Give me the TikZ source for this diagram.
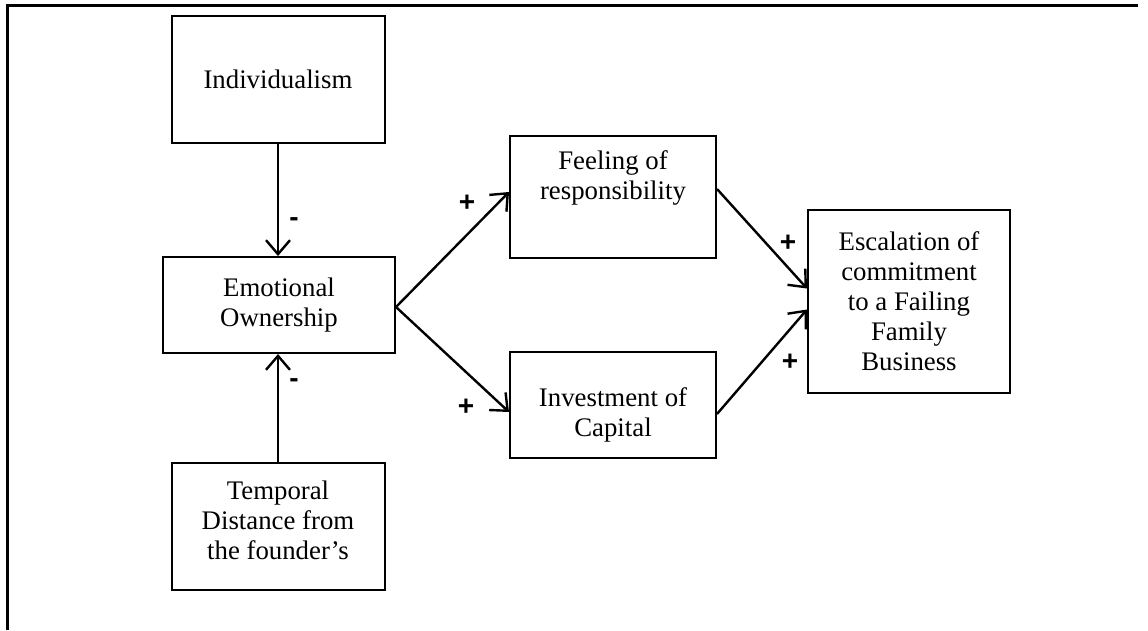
\documentclass[tikz,border=0pt]{standalone}
\usepackage{fontspec}
\setmainfont{Liberation Serif}
\newfontfamily\signfont{Liberation Sans}
\usetikzlibrary{arrows.meta}

\begin{document}
\begin{tikzpicture}[x=1pt, y=-1pt,
  box/.style = {shape=rectangle, draw, line width=2pt,
    align=center, font=\fontsize{26.8}{30}\selectfont},
  txt/.style = {align=center, font=\fontsize{26.8}{30}\selectfont},
  sign/.style = {font=\signfont\bfseries\fontsize{28}{28}\selectfont},
  link/.style = {line width=2.4pt, -{Straight Barb[length=14pt,width=24pt,line width=2.4pt]}}]
  \useasboundingbox (0,0) rectangle (1148,630);
  % frame
  \draw[line width=3pt] (7,630) -- (7,5) -- (1138,5);
  % boxes
  \node[box, minimum width=213, minimum height=127] (indiv) at (278,79.5) {Individualism};
  \node[box, minimum width=232, minimum height=96] (emo) at (279,305) {Emotional\\Ownership};
  \node[box, minimum width=213, minimum height=127] (temp) at (278,526.5) {};
  \node[txt] at ([yshift=6]temp.center) {Temporal\\Distance from\\the founder’s};
  \node[box, minimum width=206, minimum height=122] (feel) at (613,197) {};
  \node[txt] at ([yshift=19]feel.center) {Feeling of\\responsibility};
  \node[box, minimum width=206, minimum height=106] (invest) at (613,405) {};
  \node[txt] at ([yshift=-10]invest.center) {Investment of\\Capital};
  \node[box, minimum width=202, minimum height=183] (escal) at (909,301.5) {Escalation of\\commitment\\to a Failing\\Family\\Business};
  % arrows
  \draw[link] (indiv.south) -- (indiv.south |- emo.north);
  \draw[link] (temp.north) -- (temp.north |- emo.south);
  \draw[link] ([yshift=-2]emo.east) -- ([yshift=5]feel.west);
  \draw[link] ([yshift=-2]emo.east) -- ([yshift=-7]invest.west);
  \draw[link] ([yshift=8]feel.east) -- ([yshift=13]escal.west);
  \draw[link] ([yshift=-9]invest.east) -- ([yshift=-8]escal.west);
  % signs
  \node[sign] (s1) at (294,222) {-};
  \node[sign] (s2) at (294,383) {-};
  \node[sign] (s3) at (467,203) {+};
  \node[sign] (s4) at (466,407) {+};
  \node[sign] (s5) at (788,243) {+};
  \node[sign] (s6) at (790,362) {+};
\end{tikzpicture}
\end{document}
